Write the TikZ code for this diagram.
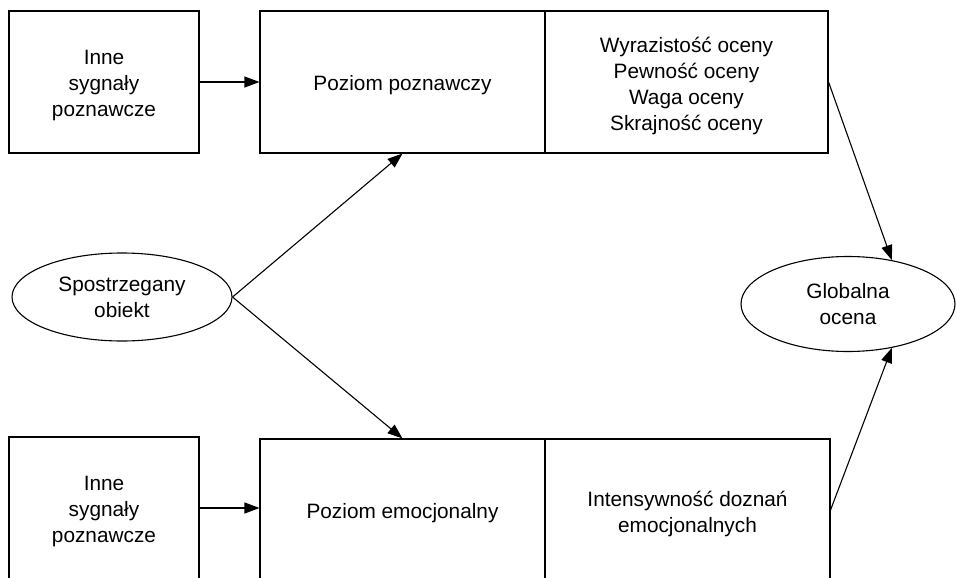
\documentclass[tikz,border=0pt]{standalone}
\usepackage{fontspec}
\setmainfont{Liberation Sans}
\usetikzlibrary{arrows.meta,shapes.geometric}
\begin{document}
\begin{tikzpicture}[x=1pt,y=-1pt,
  every node/.style={font=\fontsize{20.8}{26}\selectfont, align=center, text=black},
  box/.style={draw, line width=1.1pt, rectangle, inner sep=0pt, minimum height=142pt},
  boxtext/.style={label={[yshift=-3.5pt]center:{#1}}},
  oval/.style={draw, line width=1.1pt, ellipse, inner sep=0pt},
  conn/.style={line width=1.1pt, -{Triangle[length=15pt,width=11pt]}}]
\useasboundingbox (0,0) rectangle (956,578);
\clip (0,0) rectangle (956,578);
% top row
\node[box, minimum width=190pt, boxtext={Inne\\sygnały\\poznawcze}] (tl) at (104,82) {};
\node[box, minimum width=285pt, boxtext={Poziom poznawczy}] (tm) at (402.5,82) {};
\node[box, minimum width=283pt, boxtext={Wyrazistość oceny\\Pewność oceny\\Waga oceny\\Skrajność oceny}] (tr) at (686.5,82) {};
% bottom row
\node[box, minimum width=190pt, boxtext={Inne\\sygnały\\poznawcze}] (bl) at (104,508) {};
\node[box, minimum width=285pt, boxtext={Poziom emocjonalny}] (bm) at (402.5,510) {};
\node[box, minimum width=285pt, boxtext={Intensywność doznań\\emocjonalnych}] (br) at (687.5,510) {};
% ellipses
\node[oval, minimum width=220pt, minimum height=88pt] (so) at (122,297) {Spostrzegany\\obiekt};
\node[oval, minimum width=214pt, minimum height=95pt] (go) at (848,304) {Globalna\\ocena};
% connectors
\draw[conn] (tl.east) -- (tm.west);
\draw[conn] (bl.east) -- (bl.east -| bm.west);
\draw[conn] (so.east) -- (tm.south);
\draw[conn] (so.east) -- (bm.north);
\draw[conn] (tr.east) -- (go.45);
\draw[conn] (br.east) -- (go.-45);
\end{tikzpicture}
\end{document}
